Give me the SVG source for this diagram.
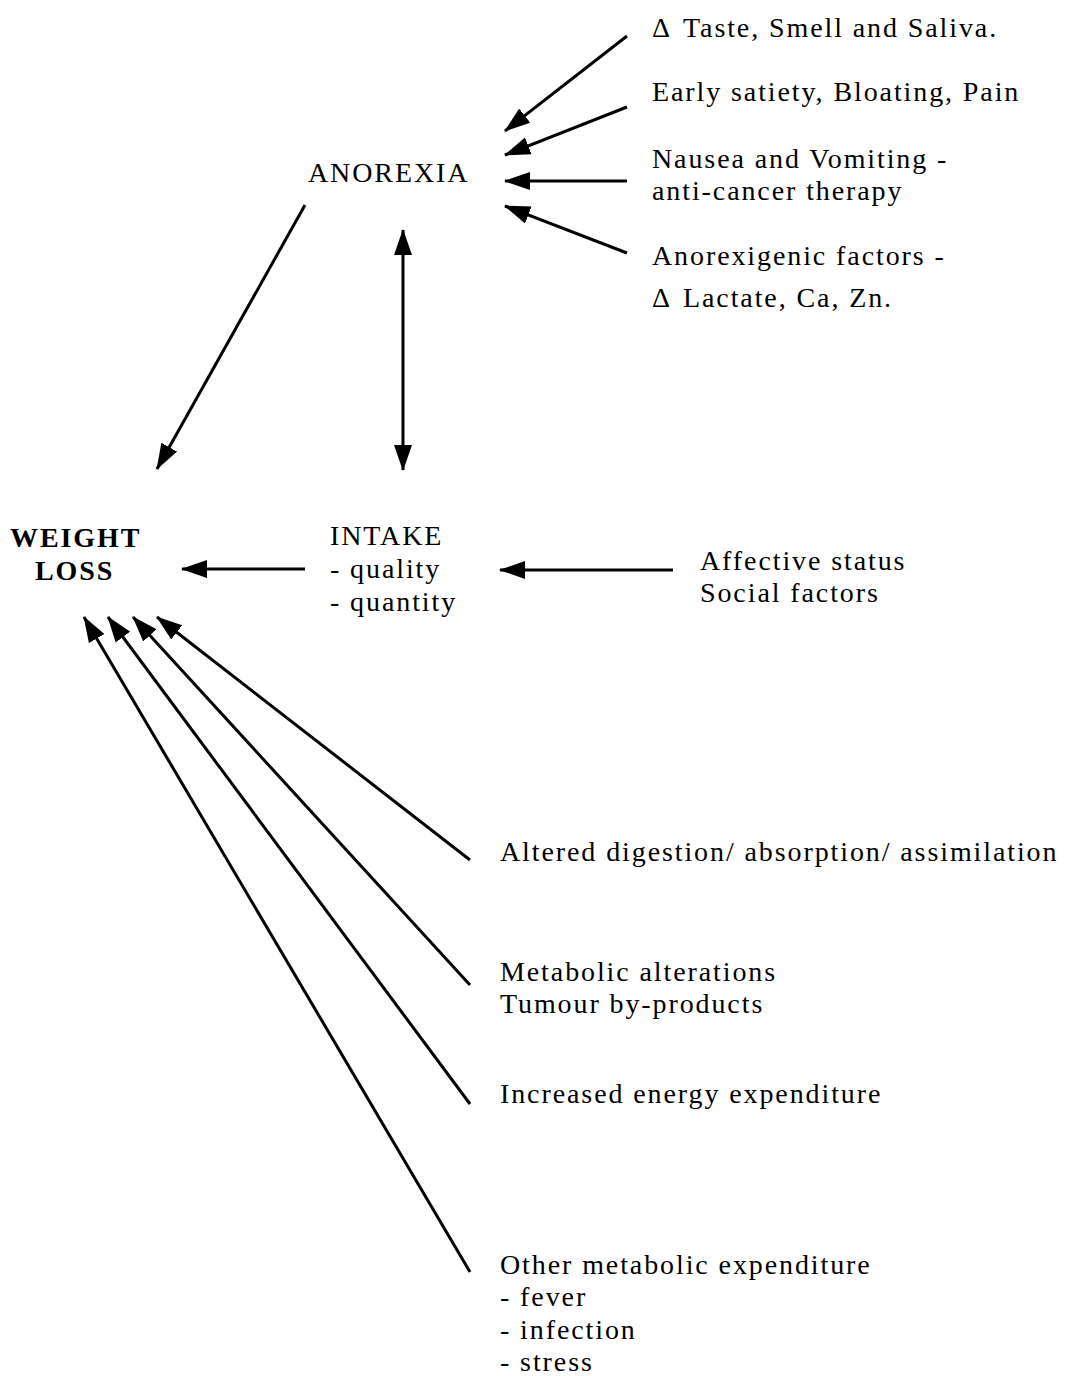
<svg xmlns="http://www.w3.org/2000/svg" width="1065" height="1376" viewBox="0 0 1065 1376">
<style>
text{font-family:"Liberation Serif","Times New Roman",serif;font-size:28px;letter-spacing:1.9px;fill:#000}
.b{font-weight:bold}
line{stroke:#000;stroke-width:3}
</style>
<defs>
<marker id="ah" markerUnits="userSpaceOnUse" markerWidth="26" markerHeight="20" refX="25" refY="9" orient="auto-start-reverse" viewBox="0 0 26 18">
<path d="M0,0 L26,9 L0,18 z" fill="#000"/>
</marker>
</defs>
<rect width="1065" height="1376" fill="#fff"/>
<g id="taste"><text x="652" y="37">Δ<tspan x="683">Taste, Smell and Saliva.</tspan></text></g>
<g id="satiety"><text x="652" y="101">Early satiety, Bloating, Pain</text></g>
<g id="nausea"><text x="652" y="168">Nausea and Vomiting -</text><text x="652" y="200">anti-cancer therapy</text></g>
<g id="anorexigenic"><text x="652" y="265">Anorexigenic factors -</text><text x="652" y="307">Δ<tspan x="683">Lactate, Ca, Zn.</tspan></text></g>
<g id="anorexia"><text x="308" y="182">ANOREXIA</text></g>
<g id="weightloss"><text class="b" x="10" y="547">WEIGHT</text><text class="b" x="35" y="580">LOSS</text></g>
<g id="intake"><text x="330" y="545">INTAKE</text><text x="330" y="578">- quality</text><text x="330" y="611">- quantity</text></g>
<g id="affective"><text x="700" y="570">Affective status</text><text x="700" y="602">Social factors</text></g>
<g id="digestion"><text x="500" y="861">Altered digestion/ absorption/ assimilation</text></g>
<g id="metabolic"><text x="500" y="981">Metabolic alterations</text><text x="500" y="1013">Tumour by-products</text></g>
<g id="energy"><text x="500" y="1103">Increased energy expenditure</text></g>
<g id="other"><text x="500" y="1274">Other metabolic expenditure</text><text x="500" y="1306">- fever</text><text x="500" y="1339">- infection</text><text x="500" y="1371">- stress</text></g>
<g id="connectors">
<line x1="627" y1="36" x2="505" y2="131" marker-end="url(#ah)"/>
<line x1="627" y1="107" x2="505" y2="155" marker-end="url(#ah)"/>
<line x1="627" y1="181" x2="505" y2="181" marker-end="url(#ah)"/>
<line x1="627" y1="253" x2="505" y2="206" marker-end="url(#ah)"/>
<line x1="305" y1="205" x2="157" y2="469" marker-end="url(#ah)"/>
<line x1="403" y1="230" x2="403" y2="470" marker-start="url(#ah)" marker-end="url(#ah)"/>
<line x1="305" y1="569" x2="182" y2="569" marker-end="url(#ah)"/>
<line x1="673" y1="570" x2="500" y2="570" stroke-width="2.5" marker-end="url(#ah)"/>
<line x1="470" y1="860" x2="157" y2="617" marker-end="url(#ah)"/>
<line x1="470" y1="985" x2="133" y2="617" marker-end="url(#ah)"/>
<line x1="470" y1="1104" x2="108" y2="617" marker-end="url(#ah)"/>
<line x1="470" y1="1272" x2="84" y2="617" marker-end="url(#ah)"/>
</g>
</svg>
